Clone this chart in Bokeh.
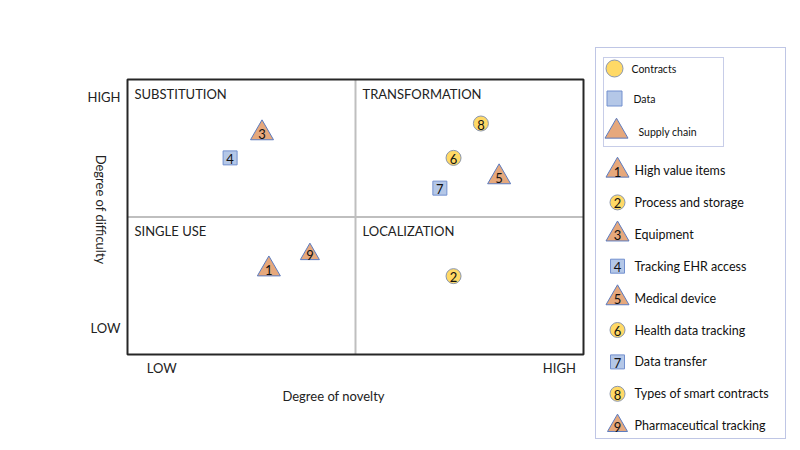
from math import pi
from bokeh.plotting import figure
from bokeh.models import ColumnDataSource, Range1d
from bokeh.core.properties import value
from bokeh.embed import file_html
from bokeh.resources import INLINE

# ---------------- data ----------------
ids = ["1", "2", "3", "4", "5", "6", "7", "8", "9"]
names = ["High value items", "Process and storage", "Equipment", "Tracking EHR access",
         "Medical device", "Health data tracking", "Data transfer",
         "Types of smart contracts", "Pharmaceutical tracking"]
kinds = ["supply", "contracts", "supply", "data", "supply", "contracts", "data",
         "contracts", "supply"]
novelty = [3.1, 7.15, 2.95, 2.25, 8.15, 7.15, 6.85, 7.75, 4.0]
difficulty = [3.1, 2.85, 8.05, 7.15, 6.45, 7.15, 6.05, 8.4, 3.65]

axis_min = 0
axis_max = 10
axis_mid = 5

quadrant_names = ["SUBSTITUTION", "TRANSFORMATION", "SINGLE USE", "LOCALIZATION"]
quadrant_x = [0, 5, 0, 5]
quadrant_y = [10, 10, 5, 5]

x_ticks = [0.75, 9.47]
x_tick_labels = ["LOW", "HIGH"]
y_ticks = [0.95, 9.38]
y_tick_labels = ["LOW", "HIGH"]
x_title = "Degree of novelty"
y_title = "Degree of difficulty"

category_kinds = ["contracts", "data", "supply"]
category_names = ["Contracts", "Data", "Supply chain"]

# ---------------- styles ----------------
FONT = "Lato"
TXT = "#222222"
marker_of = {"contracts": "circle", "data": "square", "supply": "triangle"}
fill_of = {"contracts": "#FFD966", "data": "#B4C7E7", "supply": "#E6A87C"}
line_of = {"contracts": "#8A96AE", "data": "#7390CF", "supply": "#5B7BC0"}
size_of = {"contracts": 15, "data": 14, "supply": 23}

W, H = 792, 442
# quadrant box placement inside the canvas (pixels)
BOX_L, BOX_R, BOX_T, BOX_B = 127, 583, 79, 354
sx = (BOX_R - BOX_L) / (axis_max - axis_min)
sy = (BOX_B - BOX_T) / (axis_max - axis_min)

p = figure(width=W, height=H, output_backend="svg", toolbar_location=None,
           x_range=Range1d(axis_min - BOX_L / sx, axis_max + (W - BOX_R) / sx),
           y_range=Range1d(axis_min - (H - BOX_B) / sy, axis_max + BOX_T / sy),
           min_border=0, x_axis_location=None, y_axis_location=None)
p.grid.visible = False
p.outline_line_color = None
p.background_fill_color = "white"
p.border_fill_color = "white"
# legend panel coordinates: canvas pixels
p.extra_x_ranges = {"leg": Range1d(0, W)}
p.extra_y_ranges = {"leg": Range1d(H, 0)}

# quadrant box and dividers
p.segment(x0=[axis_mid, axis_min], y0=[axis_min, axis_mid],
          x1=[axis_mid, axis_max], y1=[axis_max, axis_mid],
          line_color="#BFBFBF", line_width=2)
p.quad(left=[axis_min], right=[axis_max], bottom=[axis_min], top=[axis_max],
       fill_color=None, line_color="#262626", line_width=2)

p.text(x=quadrant_x, y=quadrant_y, text=quadrant_names, x_offset=7, y_offset=14,
       text_font=value(FONT), text_font_size="13px", text_color=TXT,
       text_align="left", text_baseline="middle")

# tick labels
p.text(x=x_ticks, y=[axis_min] * len(x_ticks), text=x_tick_labels, y_offset=13,
       text_font=value(FONT), text_font_size="13px", text_color=TXT,
       text_align="center", text_baseline="middle")
p.text(x=[axis_min] * len(y_ticks), y=y_ticks, text=y_tick_labels, x_offset=-7,
       text_font=value(FONT), text_font_size="13px", text_color=TXT,
       text_align="right", text_baseline="middle")

# axis titles
p.text(x=[-0.59], y=[5.27], text=[y_title], angle=-pi / 2,
       text_font=value(FONT), text_font_size="13px", text_color=TXT,
       text_align="center", text_baseline="middle")
p.text(x=[4.52], y=[-1.5], text=[x_title],
       text_font=value(FONT), text_font_size="13px", text_color=TXT,
       text_align="center", text_baseline="middle")

# points
sizes = [size_of[k] for k in kinds]
sizes[8] = 19
src = ColumnDataSource(dict(
    x=novelty, y=difficulty, id=ids,
    marker=[marker_of[k] for k in kinds],
    fill=[fill_of[k] for k in kinds],
    line=[line_of[k] for k in kinds],
    size=sizes,
))
p.scatter(x="x", y="y", marker="marker", size="size", fill_color="fill",
          line_color="line", line_width=1, source=src)
p.text(x="x", y="y", text="id", y_offset=1, text_font=value(FONT), text_font_size="13px",
       text_color="#111111", text_align="center", text_baseline="middle", source=src)

# ---------------- legend panel ----------------
LK = dict(x_range_name="leg", y_range_name="leg")
p.quad(left=[595], right=[785], top=[47], bottom=[438], fill_color=None,
       line_color="#7F8CCB", line_dash="1 1", line_width=1, **LK)
p.quad(left=[603], right=[723], top=[57], bottom=[146], fill_color=None,
       line_color="#8F9AD0", line_dash="1 1", line_width=1, **LK)

cat_y = [68, 98, 131]
p.scatter(x=[614, 614, 616], y=cat_y, marker=[marker_of[k] for k in category_kinds],
          size=[17, 15, 23], fill_color=[fill_of[k] for k in category_kinds],
          line_color=[line_of[k] for k in category_kinds], line_width=1, **LK)
p.text(x=[631, 633, 638], y=cat_y, text=category_names, text_font=value(FONT),
       text_font_size="10.5px", text_color="#111111", text_align="left",
       text_baseline="middle", **LK)

item_y = [170 + 31.9 * i for i in range(len(ids))]
leg_sizes = [size_of[k] for k in kinds]
leg_sizes[8] = 20
leg_src = ColumnDataSource(dict(
    x=[617] * len(ids), y=item_y, id=ids, name=names,
    marker=[marker_of[k] for k in kinds],
    fill=[fill_of[k] for k in kinds],
    line=[line_of[k] for k in kinds],
    size=leg_sizes,
))
p.scatter(x="x", y="y", marker="marker", size="size", fill_color="fill",
          line_color="line", line_width=1, source=leg_src, **LK)
p.text(x="x", y="y", text="id", y_offset=1, text_font=value(FONT), text_font_size="13px",
       text_color="#111111", text_align="center", text_baseline="middle",
       source=leg_src, **LK)
p.text(x=[634] * len(ids), y=item_y, text=names, text_font=value(FONT),
       text_font_size="12.5px", text_color="#111111", text_align="left",
       text_baseline="middle", **LK)

open("out.html", "w").write(file_html(p, INLINE))
